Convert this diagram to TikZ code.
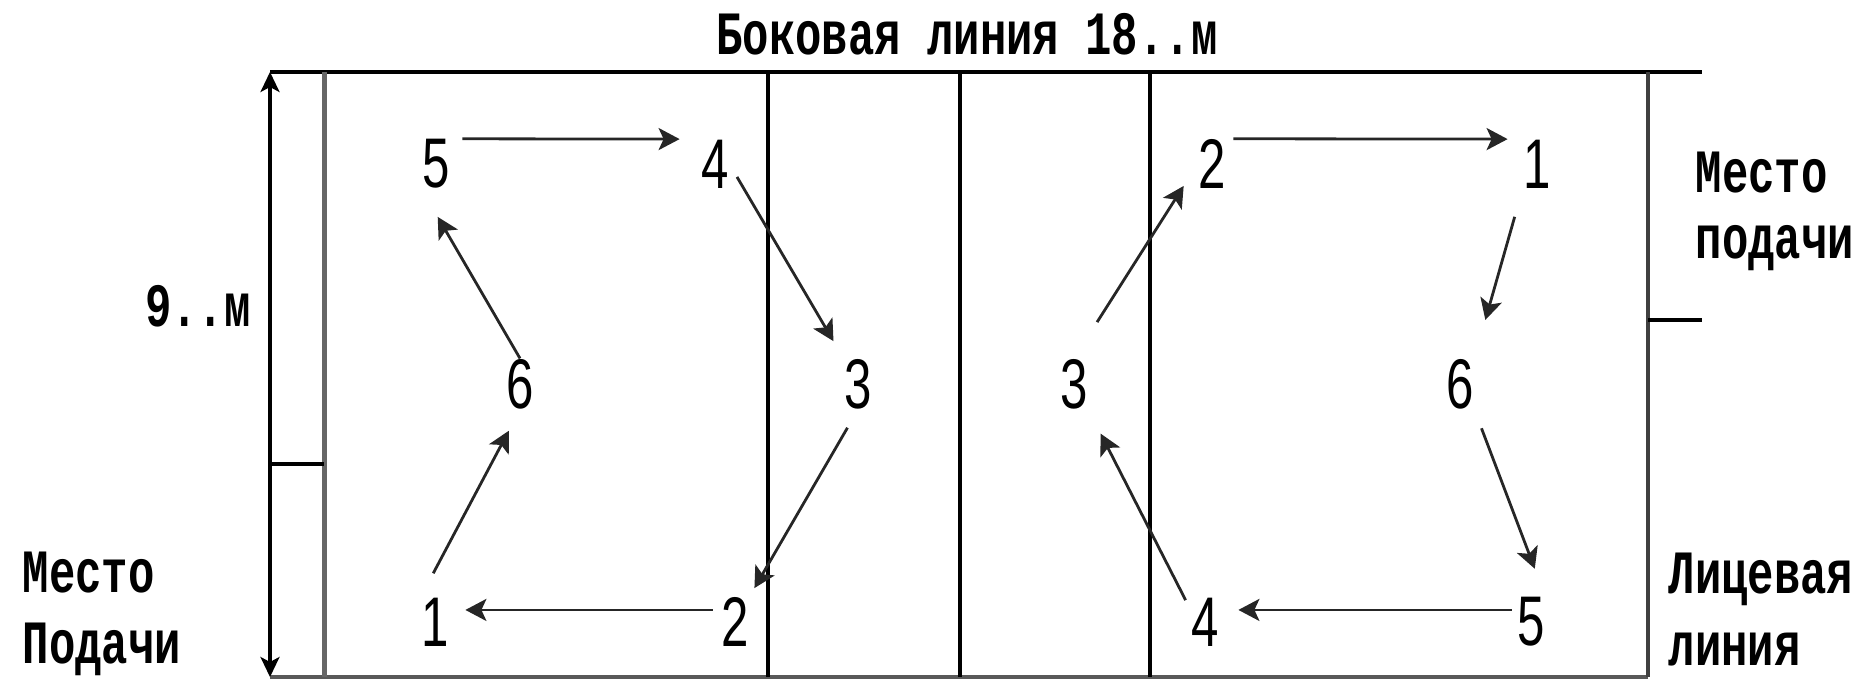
\documentclass[tikz,border=0pt]{standalone}
\usepackage{fontspec}
\setmainfont{Liberation Mono}
\newfontfamily\numfont{Liberation Sans}
\usetikzlibrary{arrows.meta}

\newcommand{\narrow}[1]{\scalebox{0.7}[1]{#1}}
\newcommand{\tall}[1]{\scalebox{1}[1.4]{#1}}

\tikzset{
  pl/.style={font=\numfont\fontsize{20}{20}\selectfont, inner sep=0pt},
  lbl/.style={font=\bfseries\fontsize{12.5}{12.5}\selectfont, inner sep=0pt, anchor=base west},
  mv/.style={-{Stealth[length=2.1mm,width=2.2mm,inset=0.5mm]}, line width=0.28mm, black!85},
  court/.style={line width=0.32mm},
}

\begin{document}
\begin{tikzpicture}[x=0.1mm,y=-0.1mm]
\useasboundingbox (0,0) rectangle (1875,680);

% court lines
\coordinate (dimtop) at (270,72);
\coordinate (dimbot) at (270,677);
\draw[line width=0.45mm] (270,72) -- (1702,72);
\draw[line width=0.45mm,black!65] (270,677) -- (1648,677);
\draw[line width=0.5mm,black!60] (324,72) -- (324,677);
\draw[court] (768,72) -- (768,677);
\draw[court] (960,72) -- (960,677);
\draw[court] (1150,72) -- (1150,677);
\draw[line width=0.38mm,black!75] (1648,72) -- (1648,677);
\draw[court] (270,464) -- (324,464);
\draw[court] (1648,320) -- (1702,320);
\draw[court,{Stealth[length=2mm,width=1.9mm,inset=0.5mm]}-{Stealth[length=2mm,width=1.9mm,inset=0.5mm]}] (dimtop) -- (dimbot);

% labels
\node[lbl,anchor=base] (side) at (967,54) {\tall{Боковая линия 18..м}};
\node[lbl,anchor=base] (width) at (198,326) {\tall{9..м}};
\node[lbl] (servel1) at (22,592) {\tall{Место}};
\node[lbl] (servel2) at (22,663) {\tall{Подачи}};
\node[lbl] (server1) at (1695,192) {\tall{Место}};
\node[lbl] (server2) at (1695,258) {\tall{подачи}};
\node[lbl] (end1) at (1668,593) {\tall{Лицевая}};
\node[lbl] (end2) at (1668,665) {\tall{линия}};

% left team
\node[pl] (l5) at (436,164) {\narrow{5}};
\node[pl] (l4) at (715,164) {\narrow{4}};
\node[pl] (l6) at (520,384) {\narrow{6}};
\node[pl] (l3) at (858,384) {\narrow{3}};
\node[pl] (l1) at (435,622) {\narrow{1}};
\node[pl] (l2) at (735,622) {\narrow{2}};

% right team
\node[pl] (r2) at (1212,164) {\narrow{2}};
\node[pl] (r1) at (1537,164) {\narrow{1}};
\node[pl] (r3) at (1074,384) {\narrow{3}};
\node[pl] (r6) at (1460,384) {\narrow{6}};
\node[pl] (r4) at (1205,622) {\narrow{4}};
\node[pl] (r5) at (1531,622) {\narrow{5}};

% rotation
\draw[mv,shorten <=1.2mm,shorten >=2.1mm] (l5.north east) -- (l4.north west);
\draw[mv,shorten <=1.5mm,shorten >=2mm] (l4.east) -- (l3.north west);
\draw[mv,shorten <=2.1mm,shorten >=1mm] (l3.south) -- (l2.north east);
\draw[mv,shorten <=0.8mm,shorten >=1.6mm] (l2.140) -- (l1.40);
\draw[mv,shorten <=2.7mm,shorten >=2.4mm] (l1.north west) -- (l6.south);
\draw[mv,shorten >=3.2mm] (l6.north) -- (l5.south west);

\draw[mv,shorten <=0.7mm,shorten >=1.5mm] (r2.north east) -- (r1.north west);
\draw[mv,shorten <=2.9mm,shorten >=4mm] (r1.south west) -- (r6.north east);
\draw[mv,shorten <=2mm,shorten >=3mm] (r6.south east) -- (r5.north east);
\draw[mv,shorten <=0.5mm,shorten >=1.9mm] (r5.140) -- (r4.40);
\draw[mv,shorten <=1.1mm,shorten >=2.7mm] (r4.140) -- (r3.south east);
\draw[mv,shorten <=4.3mm,shorten >=2.6mm] (r3.north) -- (r2.west);
\end{tikzpicture}
\end{document}
